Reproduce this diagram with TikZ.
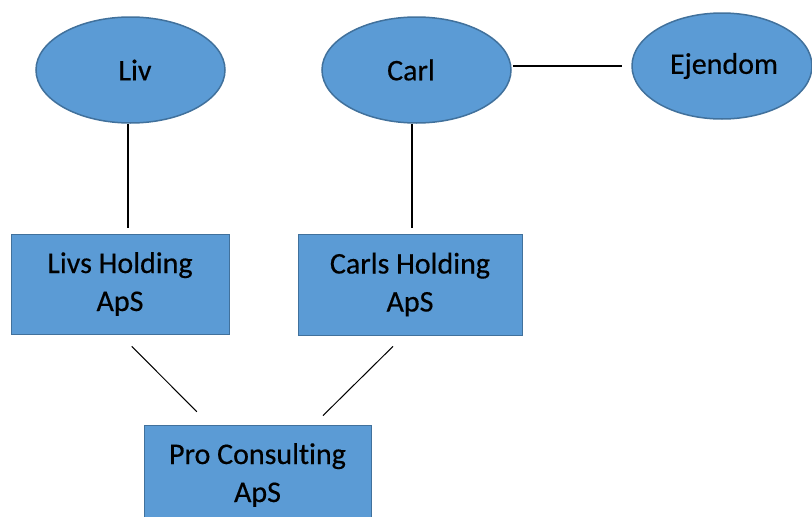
\documentclass[tikz,border=0pt]{standalone}
\usepackage{fontspec}
\setmainfont{Carlito}[Ligatures={NoCommon}, FakeBold=0.4]
\usetikzlibrary{shapes.geometric}
\definecolor{boxfill}{HTML}{5B9BD5}
\definecolor{boxline}{HTML}{41719C}
\tikzset{
  person/.style={ellipse, draw=boxline, line width=1.5pt, fill=boxfill, inner sep=0pt,
    font=\fontsize{30}{36}\selectfont},
  company/.style={rectangle, draw=boxline, line width=1pt, fill=boxfill, inner sep=0pt,
    align=center, font=\fontsize{30}{38}\selectfont},
  link/.style={draw=black, line width=1.4pt},
  thinlink/.style={draw=black, line width=1pt}
}
\begin{document}
\begin{tikzpicture}[x=1pt,y=-1pt]
\useasboundingbox (0,0) rectangle (812,517);
\clip (0,0) rectangle (812,517);
% owners
\node[person, minimum width=189pt, minimum height=106pt] (Liv) at (130.5,70) {\raisebox{-2pt}{\hspace{9pt}Liv}};
\node[person, minimum width=189pt, minimum height=106pt] (Carl) at (416.5,70) {\raisebox{-5pt}{\hspace{-11pt}Carl}};
\node[person, minimum width=180pt, minimum height=106pt] (Eiendom) at (722,66) {\raisebox{-4pt}{\hspace{4pt}Ejendom}};
% companies
\node[company, minimum width=218pt, minimum height=100pt] (LivsH) at (120,284) {Livs Holding\\ApS};
\node[company, minimum width=224pt, minimum height=101pt] (CarlsH) at (410,284.5) {Carls Holding\\ApS};
\node[company, minimum width=227pt, minimum height=100pt] (Pro) at (257.5,475) {Pro Consulting\\ApS};
% ownership lines
\draw[link, shorten >=6pt] ([xshift=-2.5pt]Liv.south) -- ([xshift=-2.5pt]Liv.south |- LivsH.north);
\draw[link, shorten >=6pt] ([xshift=-4.5pt]Carl.south) -- ([xshift=-4.5pt]Carl.south |- CarlsH.north);
\draw[link, shorten <=1pt, shorten >=9pt] (Eiendom.west -| Carl.east) -- (Eiendom.west);
\draw[thinlink, shorten <=16.7pt, shorten >=18pt] (LivsH.south) -- ([xshift=-48pt]Pro.north);
\draw[thinlink, shorten <=15.5pt, shorten >=12.7pt] ([xshift=-6pt]CarlsH.south) -- ([xshift=56.5pt]Pro.north);
\end{tikzpicture}
\end{document}
